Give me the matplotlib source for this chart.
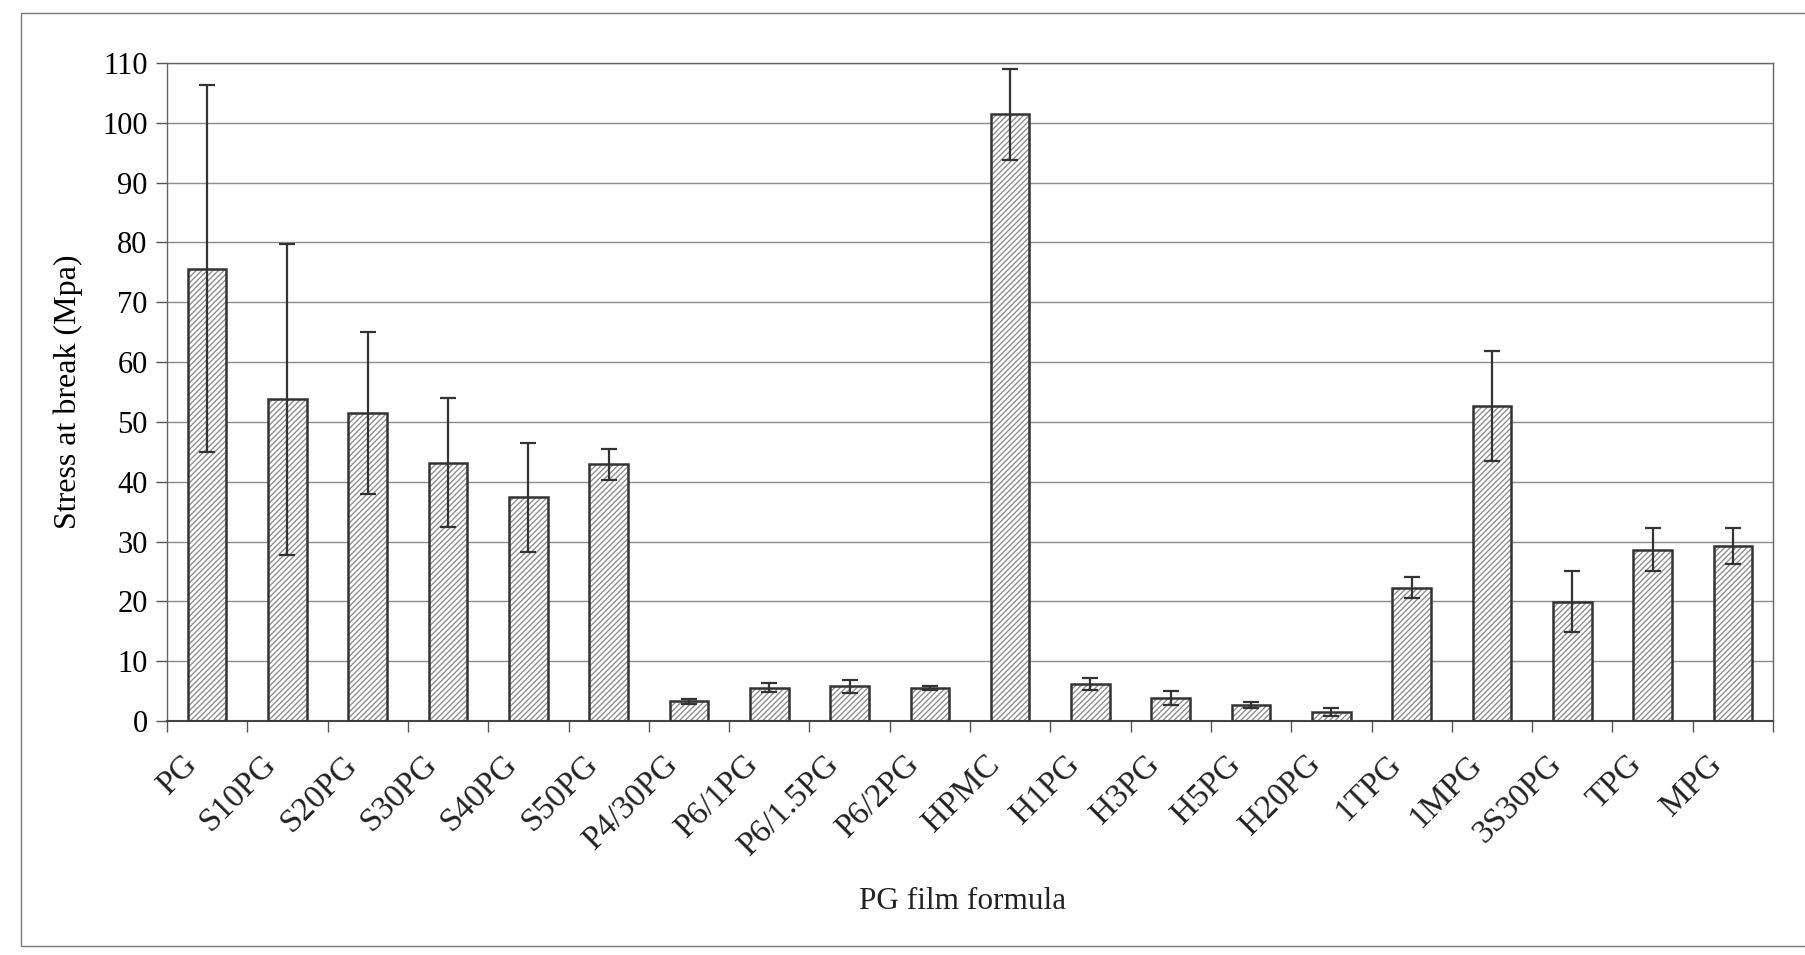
import matplotlib
matplotlib.use("Agg")
import matplotlib.pyplot as plt
from matplotlib.patches import Rectangle
from matplotlib.transforms import ScaledTranslation
import numpy as np

categories = ["PG", "S10PG", "S20PG", "S30PG", "S40PG", "S50PG", "P4/30PG",
              "P6/1PG", "P6/1.5PG", "P6/2PG", "HPMC", "H1PG", "H3PG", "H5PG",
              "H20PG", "1TPG", "1MPG", "3S30PG", "TPG", "MPG"]
stress = [75.6, 53.8, 51.5, 43.2, 37.4, 42.9, 3.3, 5.6, 5.8, 5.5, 101.4, 6.2,
          3.8, 2.7, 1.5, 22.3, 52.6, 19.9, 28.6, 29.3]
errors = [30.7, 26.0, 13.6, 10.8, 9.1, 2.6, 0.4, 0.7, 1.1, 0.4, 7.6, 1.0,
          1.2, 0.5, 0.6, 1.7, 9.2, 5.1, 3.6, 3.0]
yticks = list(range(0, 111, 10))

plt.rcParams['font.family'] = ['Liberation Serif', 'DejaVu Serif']
plt.rcParams['hatch.linewidth'] = 1.0
plt.rcParams['hatch.color'] = '#8f8f8f'

fig = plt.figure(figsize=(18.05, 9.55), dpi=100)
ax = fig.add_axes([167 / 1805, 1 - 721 / 955, (1773 - 167) / 1805, (721 - 63) / 955])

x = np.arange(len(categories))
w = 0.48
ax.bar(x, stress, width=w, facecolor='white', edgecolor='#8f8f8f',
       hatch='//////', linewidth=0, zorder=2)
ax.bar(x, stress, width=w, facecolor='none', edgecolor='#333333',
       linewidth=1.8, zorder=3)
ax.errorbar(x, stress, yerr=errors, fmt='none', ecolor='#333333',
            elinewidth=1.6, capsize=6, capthick=1.6, zorder=4)

ax.set_xlim(-0.5, len(categories) - 0.5)
ax.set_ylim(0, 110)
ax.set_yticks(yticks)
ax.set_yticklabels([str(t) for t in yticks], fontsize=22)
ax.yaxis.grid(True, color='#8c8c8c', linewidth=1.0)
ax.set_axisbelow(True)

ax.set_xticks(np.arange(-0.5, len(categories), 1.0))
ax.set_xticklabels([])
ax.tick_params(axis='x', which='major', length=8, width=1.0, color='#555555')
ax.tick_params(axis='y', length=8, width=1.0, color='#555555', pad=6)

offset = ScaledTranslation(-26 / 100, -28 / 100, fig.dpi_scale_trans)
for xi, lab in zip(x, categories):
    ax.text(xi, 0, lab, transform=ax.get_xaxis_transform() + offset,
            rotation=45, ha='right', va='top', rotation_mode='anchor',
            fontsize=24, color='#222222')

for s in ['left', 'top', 'right']:
    ax.spines[s].set_color('#666666')
    ax.spines[s].set_linewidth(1.0)
ax.spines['bottom'].set_color('#444444')
ax.spines['bottom'].set_linewidth(1.5)

ax.set_ylabel("Stress at break (Mpa)", fontsize=23, labelpad=14)
fig.text(963 / 1805, 1 - 901 / 955, "PG film formula", fontsize=22.5,
         ha='center', va='center', color='#222222')

fig.patches.append(Rectangle((21 / 1805, 1 - 946 / 955), 1.0, (946 - 13) / 955,
                             transform=fig.transFigure, fill=False,
                             edgecolor='#777777', linewidth=1.0))

fig.savefig("out.png", dpi=100)
